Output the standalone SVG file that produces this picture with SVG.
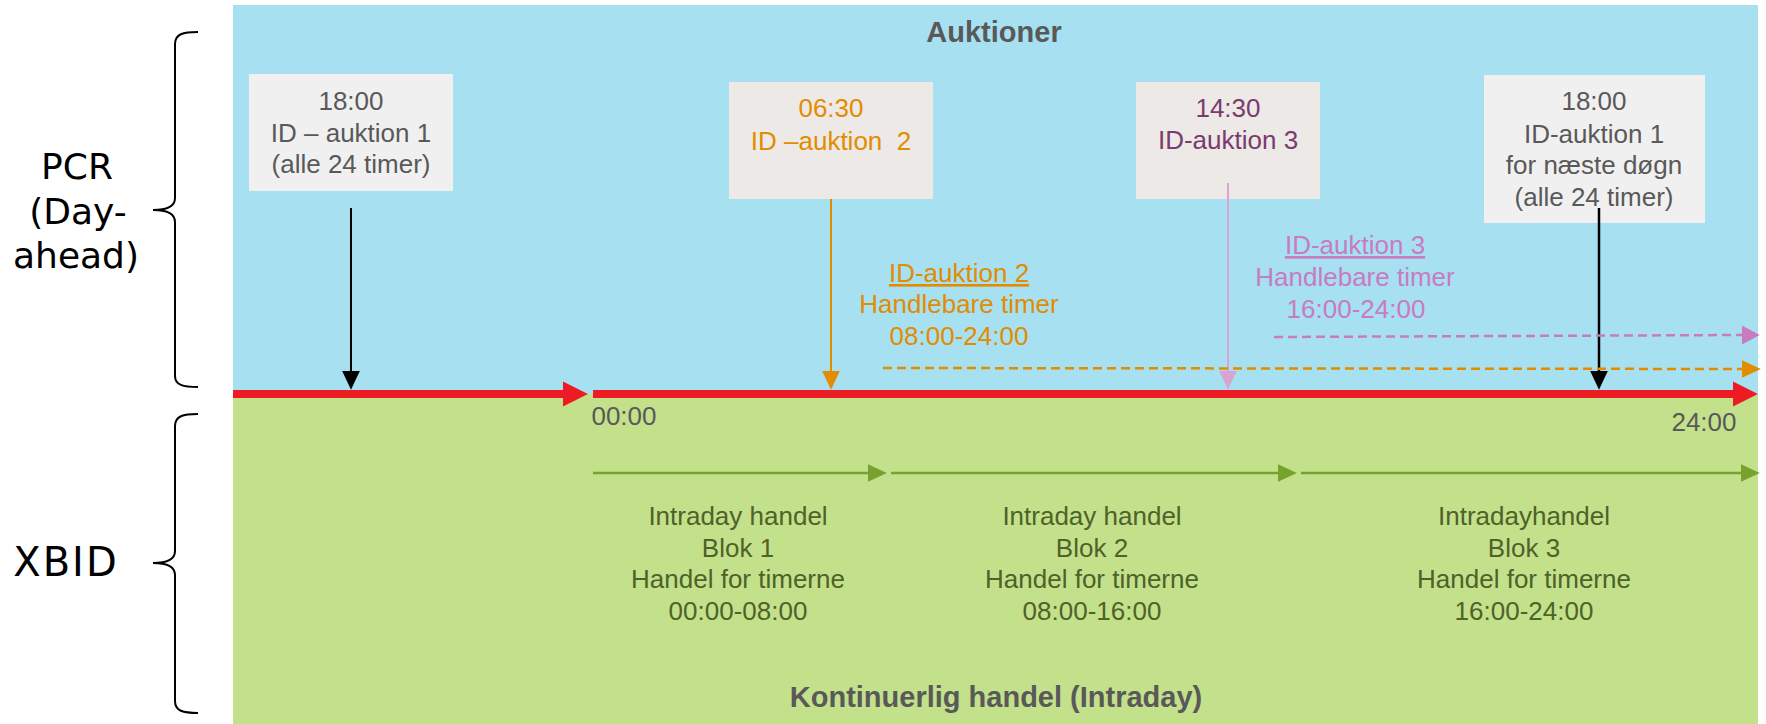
<svg xmlns="http://www.w3.org/2000/svg" width="1766" height="724" viewBox="0 0 1766 724">
<style>
.t{font-family:"Liberation Sans",Arial,sans-serif;font-size:26px;text-anchor:middle}
.b{font-family:"Liberation Sans",Arial,sans-serif;font-size:29px;font-weight:bold;fill:#595959;text-anchor:middle}
.side{font-family:"DejaVu Sans",sans-serif;font-size:36px;fill:#000;text-anchor:middle}
.grey{fill:#595959}
.org{fill:#E28C00}
.pur{fill:#7A3B6E}
.pnk{fill:#C97BC2}
.grn{fill:#4F6228}
.brace{fill:none;stroke:#000;stroke-width:2}
.boxA{fill:#F0F0F0}
.boxB{fill:#EDE9E6}
</style>
<defs>
<marker id="hBlack" markerUnits="userSpaceOnUse" markerWidth="20" markerHeight="20" viewBox="0 -8 17 16" refX="0" refY="0" orient="auto"><path d="M0,-7.5 L16,0 L0,7.5 z" fill="#000"/></marker>
<marker id="hOrg" markerUnits="userSpaceOnUse" markerWidth="20" markerHeight="20" viewBox="0 -8 17 16" refX="0" refY="0" orient="auto"><path d="M0,-7.5 L16,0 L0,7.5 z" fill="#E28C00"/></marker>
<marker id="hPnkL" markerUnits="userSpaceOnUse" markerWidth="20" markerHeight="20" viewBox="0 -8 17 16" refX="0" refY="0" orient="auto"><path d="M0,-7.5 L16,0 L0,7.5 z" fill="#D9A3D2"/></marker>
<marker id="hPnk" markerUnits="userSpaceOnUse" markerWidth="20" markerHeight="20" viewBox="0 -8 17 16" refX="0" refY="0" orient="auto"><path d="M0,-8 L15,0 L0,8 z" fill="#C97BC2"/></marker>
<marker id="hGrn" markerUnits="userSpaceOnUse" markerWidth="20" markerHeight="20" viewBox="0 -8 17 16" refX="0" refY="0" orient="auto"><path d="M0,-7.5 L16,0 L0,7.5 z" fill="#76A22D"/></marker>
<marker id="hRed" markerUnits="userSpaceOnUse" markerWidth="26" markerHeight="26" viewBox="0 -12 25 24" refX="0" refY="0" orient="auto"><path d="M0,-12 L24,0 L0,12 z" fill="#ED1C24"/></marker>
</defs>

<g id="background">
<rect x="233" y="5" width="1525" height="389" fill="#A6E0F1"/>
<rect x="233" y="394" width="1525" height="330" fill="#C3E08B"/>
</g>

<g id="pcr-label">
<path class="brace" d="M198,32 C183,32 175,34 175,44 L175,198 C175,206 168,210 153,210 C168,210 175,214 175,222 L175,376 C175,385 183,387 198,387"/>
<text class="side" x="77" y="179">PCR</text>
<text class="side" x="78" y="224">(Day-</text>
<text class="side" x="76" y="268">ahead)</text>
</g>

<g id="xbid-label">
<path class="brace" d="M198,414 C183,414 175,416 175,426 L175,551 C175,559 168,563 153,563 C168,563 175,567 175,575 L175,701 C175,711 183,713 198,713"/>
<text class="side" x="66" y="576" style="font-size:40px;letter-spacing:2px">XBID</text>
</g>

<g id="title-auktioner"><text class="b" x="994" y="42">Auktioner</text></g>
<g id="title-kontinuerlig"><text class="b" x="996" y="707">Kontinuerlig handel (Intraday)</text></g>

<g id="box-id1">
<rect class="boxA" x="249" y="74" width="204" height="117"/>
<text class="t grey" x="351" y="110">18:00</text>
<text class="t grey" x="351" y="142">ID – auktion 1</text>
<text class="t grey" x="351" y="173">(alle 24 timer)</text>
</g>

<g id="box-id2">
<rect class="boxB" x="729" y="82" width="204" height="117"/>
<text class="t org" x="831" y="117">06:30</text>
<text class="t org" x="831" y="150" xml:space="preserve">ID –auktion  2</text>
</g>

<g id="box-id3">
<rect class="boxB" x="1136" y="82" width="184" height="117"/>
<text class="t pur" x="1228" y="117">14:30</text>
<text class="t pur" x="1228" y="149">ID-auktion 3</text>
</g>

<g id="box-id1-next">
<rect class="boxA" x="1484" y="75" width="221" height="148"/>
<text class="t grey" x="1594" y="110">18:00</text>
<text class="t grey" x="1594" y="143">ID-auktion 1</text>
<text class="t grey" x="1594" y="174">for næste døgn</text>
<text class="t grey" x="1594" y="206">(alle 24 timer)</text>
</g>

<g id="label-id2-hours">
<text class="t org" x="959" y="282" text-decoration="underline">ID-auktion 2</text>
<text class="t org" x="959" y="313">Handlebare timer</text>
<text class="t org" x="959" y="345">08:00-24:00</text>
</g>

<g id="label-id3-hours">
<text class="t pnk" x="1355" y="254" text-decoration="underline">ID-auktion 3</text>
<text class="t pnk" x="1355" y="286">Handlebare timer</text>
<text class="t pnk" x="1356" y="318">16:00-24:00</text>
</g>

<g id="time-labels">
<text class="t grey" x="624" y="425">00:00</text>
<text class="t grey" x="1704" y="431">24:00</text>
</g>

<g id="blok1">
<text class="t grn" x="738" y="525">Intraday handel</text>
<text class="t grn" x="738" y="557">Blok 1</text>
<text class="t grn" x="738" y="588">Handel for timerne</text>
<text class="t grn" x="738" y="620">00:00-08:00</text>
</g>
<g id="blok2">
<text class="t grn" x="1092" y="525">Intraday handel</text>
<text class="t grn" x="1092" y="557">Blok 2</text>
<text class="t grn" x="1092" y="588">Handel for timerne</text>
<text class="t grn" x="1092" y="620">08:00-16:00</text>
</g>
<g id="blok3">
<text class="t grn" x="1524" y="525">Intradayhandel</text>
<text class="t grn" x="1524" y="557">Blok 3</text>
<text class="t grn" x="1524" y="588">Handel for timerne</text>
<text class="t grn" x="1524" y="620">16:00-24:00</text>
</g>

<g id="connectors" fill="none">
<line x1="233" y1="394" x2="563" y2="394" stroke="#ED1C24" stroke-width="8" marker-end="url(#hRed)"/>
<line x1="593" y1="394" x2="1733" y2="394" stroke="#ED1C24" stroke-width="8" marker-end="url(#hRed)"/>
<line x1="351" y1="208" x2="351" y2="371" stroke="#000" stroke-width="2" marker-end="url(#hBlack)"/>
<line x1="831" y1="199" x2="831" y2="371" stroke="#E28C00" stroke-width="2" marker-end="url(#hOrg)"/>
<line x1="1228" y1="183" x2="1228" y2="371" stroke="#D9A3D2" stroke-width="2" marker-end="url(#hPnkL)"/>
<line x1="1599" y1="208" x2="1599" y2="371" stroke="#000" stroke-width="2.5" marker-end="url(#hBlack)"/>
<line x1="883" y1="368" x2="1742" y2="369" stroke="#E28C00" stroke-width="2.5" stroke-dasharray="9,5" marker-end="url(#hOrg)"/>
<line x1="1274" y1="337" x2="1742" y2="335" stroke="#C97BC2" stroke-width="2.5" stroke-dasharray="9,5" marker-end="url(#hPnk)"/>
<line x1="593" y1="473" x2="868" y2="473" stroke="#76A22D" stroke-width="2.5" marker-end="url(#hGrn)"/>
<line x1="891" y1="473" x2="1278" y2="473" stroke="#76A22D" stroke-width="2.5" marker-end="url(#hGrn)"/>
<line x1="1301" y1="473" x2="1741" y2="473" stroke="#76A22D" stroke-width="2.5" marker-end="url(#hGrn)"/>
</g>
</svg>
